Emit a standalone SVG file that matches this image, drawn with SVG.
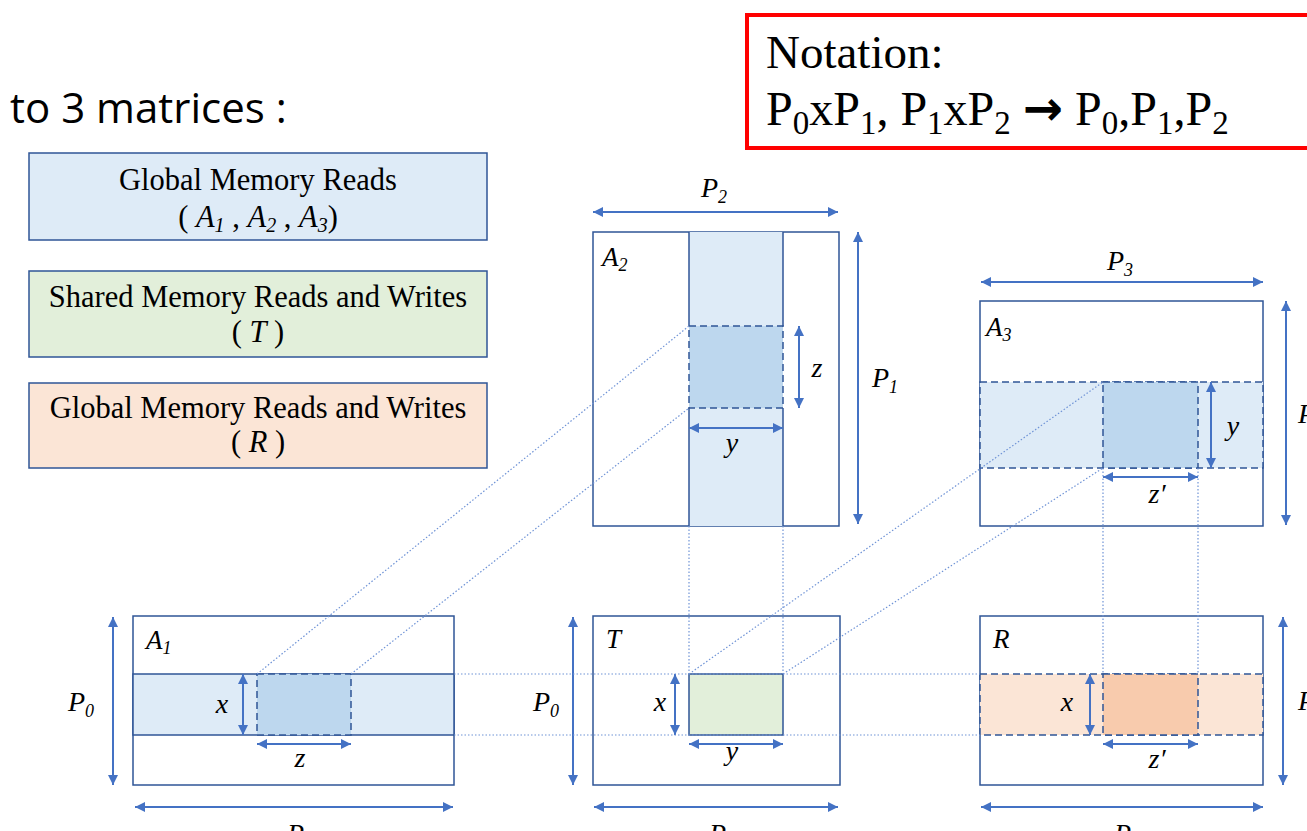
<svg xmlns="http://www.w3.org/2000/svg" width="1307" height="831" viewBox="0 0 1307 831">
<defs>
<marker id="ah" viewBox="0 0 10 10" refX="10" refY="5" markerWidth="5" markerHeight="5" orient="auto-start-reverse" markerUnits="strokeWidth">
<path d="M0,0 L10,5 L0,10 z" fill="#4472C4"/>
</marker>
<style>
.lab{font-family:"Liberation Serif","Times New Roman",serif;font-style:italic;font-size:28px;fill:#000}
.mlab{font-family:"Liberation Serif","Times New Roman",serif;font-style:italic;font-size:27px;fill:#000}
.leg{font-family:"Liberation Serif","Times New Roman",serif;font-size:30.5px;fill:#000;text-anchor:middle}
.outer{fill:#fff;stroke:#2F5597;stroke-width:1.5}
.solid{stroke:#2F5597;stroke-width:1.5}
.dash{stroke:#2F5597;stroke-width:1.5;stroke-dasharray:7 4}
.dim{stroke:#4472C4;stroke-width:2;fill:none;marker-start:url(#ah);marker-end:url(#ah)}
.dot{stroke:#6F93D6;stroke-width:1.2;stroke-dasharray:1.5 2;fill:none}
.lb{fill:#DEEBF7}
.mb{fill:#BDD7EE}
.gr{fill:#E2EFDA}
.lo{fill:#FBE5D6}
.mo{fill:#F8CBAD}
</style>
</defs>
<rect width="1307" height="831" fill="#fff"/>

<text x="10" y="123" font-family="'Open Sans','Liberation Sans',sans-serif" font-size="42" fill="#000">to 3 matrices :</text>

<g id="notation">
<rect x="747" y="15" width="600" height="133" fill="#fff" stroke="#FF0000" stroke-width="4"/>
<text x="766" y="68" font-family="'Liberation Serif','Times New Roman',serif" font-size="47" fill="#000">Notation:</text>
<text x="766" y="125" font-family="'Liberation Serif','Times New Roman',serif" font-size="48" fill="#000">P<tspan font-size="33" dy="9">0</tspan><tspan dy="-9">xP</tspan><tspan font-size="33" dy="9">1</tspan><tspan dy="-9">, P</tspan><tspan font-size="33" dy="9">1</tspan><tspan dy="-9">xP</tspan><tspan font-size="33" dy="9">2</tspan><tspan dy="-9"> </tspan><tspan font-family="'DejaVu Sans',sans-serif" font-weight="bold" font-size="48">→</tspan><tspan> P</tspan><tspan font-size="33" dy="9">0</tspan><tspan dy="-9">,P</tspan><tspan font-size="33" dy="9">1</tspan><tspan dy="-9">,P</tspan><tspan font-size="33" dy="9">2</tspan></text>
</g>

<g id="legend-global-reads">
<rect x="29" y="153" width="458" height="87" class="lb" stroke="#2F5597" stroke-width="1.5"/>
<text x="258" y="190" class="leg">Global Memory Reads</text>
<text x="258" y="227" class="leg">( <tspan font-style="italic">A</tspan><tspan font-style="italic" font-size="20" dy="5">1</tspan><tspan dy="-5"> , </tspan><tspan font-style="italic">A</tspan><tspan font-style="italic" font-size="20" dy="5">2</tspan><tspan dy="-5"> , </tspan><tspan font-style="italic">A</tspan><tspan font-style="italic" font-size="20" dy="5">3</tspan><tspan dy="-5">)</tspan></text>
</g>
<g id="legend-shared">
<rect x="29" y="271" width="458" height="86" class="gr" stroke="#2F5597" stroke-width="1.5"/>
<text x="258" y="307" class="leg">Shared Memory Reads and Writes</text>
<text x="258" y="342" class="leg">( <tspan font-style="italic">T</tspan> )</text>
</g>
<g id="legend-global-rw">
<rect x="29" y="383" width="458" height="85" class="lo" stroke="#2F5597" stroke-width="1.5"/>
<text x="258" y="418" class="leg">Global Memory Reads and Writes</text>
<text x="258" y="452" class="leg">( <tspan font-style="italic">R</tspan> )</text>
</g>

<g id="A2">
<rect x="593" y="232" width="246" height="294" class="outer"/>
<rect x="689" y="232" width="94" height="294" class="lb"/>
<line class="solid" x1="689" y1="232" x2="689" y2="326"/>
<line class="solid" x1="783" y1="232" x2="783" y2="326"/>
<line class="solid" x1="689" y1="408" x2="689" y2="526"/>
<line class="solid" x1="783" y1="408" x2="783" y2="526"/>
<rect x="689" y="326" width="94" height="82" class="mb dash"/>
<line class="dim" x1="593" y1="212" x2="838" y2="212"/>
<line class="dim" x1="858" y1="232" x2="858" y2="524"/>
<line class="dim" x1="799" y1="326" x2="799" y2="408"/>
<line class="dim" x1="689" y1="428" x2="783" y2="428"/>
<text x="602" y="266" class="mlab">A<tspan font-size="18" dy="5">2</tspan></text>
<text x="701" y="197" class="lab">P<tspan font-size="18" dy="6">2</tspan></text>
<text x="872" y="387" class="lab">P<tspan font-size="18" dy="6">1</tspan></text>
<text x="817" y="377" class="lab" text-anchor="middle">z</text>
<text x="732" y="452" class="lab" text-anchor="middle">y</text>
</g>

<g id="A3">
<rect x="980" y="301" width="283" height="225" class="outer"/>
<rect x="980" y="382" width="283" height="86" class="lb dash"/>
<rect x="1103" y="382" width="95" height="86" class="mb dash"/>
<line class="dim" x1="981" y1="282" x2="1263" y2="282"/>
<line class="dim" x1="1286" y1="301" x2="1286" y2="525"/>
<line class="dim" x1="1211" y1="382" x2="1211" y2="468"/>
<line class="dim" x1="1103" y1="477" x2="1198" y2="477"/>
<text x="986" y="336" class="mlab">A<tspan font-size="18" dy="5">3</tspan></text>
<text x="1107" y="270" class="lab">P<tspan font-size="18" dy="6">3</tspan></text>
<text x="1233" y="435" class="lab" text-anchor="middle">y</text>
<text x="1157" y="503" class="lab" text-anchor="middle">z′</text>
<text x="1298" y="423" class="lab">P<tspan font-size="18" dy="6">2</tspan></text>
</g>

<g id="A1">
<rect x="133" y="616" width="321" height="169" class="outer"/>
<rect x="133" y="674" width="321" height="61" class="lb solid"/>
<rect x="257" y="674" width="94" height="61" class="mb dash"/>
<line class="dim" x1="113" y1="617" x2="113" y2="785"/>
<line class="dim" x1="135" y1="807" x2="453" y2="807"/>
<line class="dim" x1="243" y1="674" x2="243" y2="735"/>
<line class="dim" x1="257" y1="744" x2="351" y2="744"/>
<text x="146" y="649" class="mlab">A<tspan font-size="18" dy="5">1</tspan></text>
<text x="68" y="711" class="lab">P<tspan font-size="18" dy="6">0</tspan></text>
<text x="222" y="713" class="lab" text-anchor="middle">x</text>
<text x="300" y="767" class="lab" text-anchor="middle">z</text>
<text x="287" y="843" class="lab">P<tspan font-size="18" dy="6">1</tspan></text>
</g>

<g id="T">
<rect x="593" y="616" width="247" height="169" class="outer"/>
<rect x="689" y="674" width="94" height="61" class="gr solid"/>
<line class="dim" x1="573" y1="617" x2="573" y2="785"/>
<line class="dim" x1="594" y1="807" x2="838" y2="807"/>
<line class="dim" x1="675" y1="674" x2="675" y2="735"/>
<line class="dim" x1="689" y1="744" x2="783" y2="744"/>
<text x="606" y="648" class="mlab">T</text>
<text x="533" y="711" class="lab">P<tspan font-size="18" dy="6">0</tspan></text>
<text x="660" y="711" class="lab" text-anchor="middle">x</text>
<text x="732" y="760" class="lab" text-anchor="middle">y</text>
<text x="709" y="843" class="lab">P<tspan font-size="18" dy="6">2</tspan></text>
</g>

<g id="R">
<rect x="980" y="616" width="283" height="169" class="outer"/>
<rect x="980" y="674" width="283" height="61" class="lo dash"/>
<rect x="1103" y="674" width="95" height="61" class="mo dash"/>
<line class="dim" x1="1283" y1="617" x2="1283" y2="785"/>
<line class="dim" x1="981" y1="807" x2="1263" y2="807"/>
<line class="dim" x1="1090" y1="674" x2="1090" y2="735"/>
<line class="dim" x1="1103" y1="744" x2="1198" y2="744"/>
<text x="993" y="648" class="mlab">R</text>
<text x="1067" y="711" class="lab" text-anchor="middle">x</text>
<text x="1157" y="768" class="lab" text-anchor="middle">z′</text>
<text x="1298" y="710" class="lab">P<tspan font-size="18" dy="6">0</tspan></text>
<text x="1114" y="843" class="lab">P<tspan font-size="18" dy="6">3</tspan></text>
</g>

<g id="connectors">
<line class="dot" x1="257" y1="674" x2="689" y2="326"/>
<line class="dot" x1="351" y1="674" x2="689" y2="408"/>
<line class="dot" x1="454" y1="674" x2="980" y2="674"/>
<line class="dot" x1="454" y1="735" x2="980" y2="735"/>
<line class="dot" x1="689" y1="526" x2="689" y2="674"/>
<line class="dot" x1="783" y1="526" x2="783" y2="674"/>
<line class="dot" x1="689" y1="674" x2="1103" y2="382"/>
<line class="dot" x1="783" y1="674" x2="1103" y2="468"/>
<line class="dot" x1="1103" y1="468" x2="1103" y2="674"/>
<line class="dot" x1="1198" y1="468" x2="1198" y2="674"/>
</g>
</svg>
